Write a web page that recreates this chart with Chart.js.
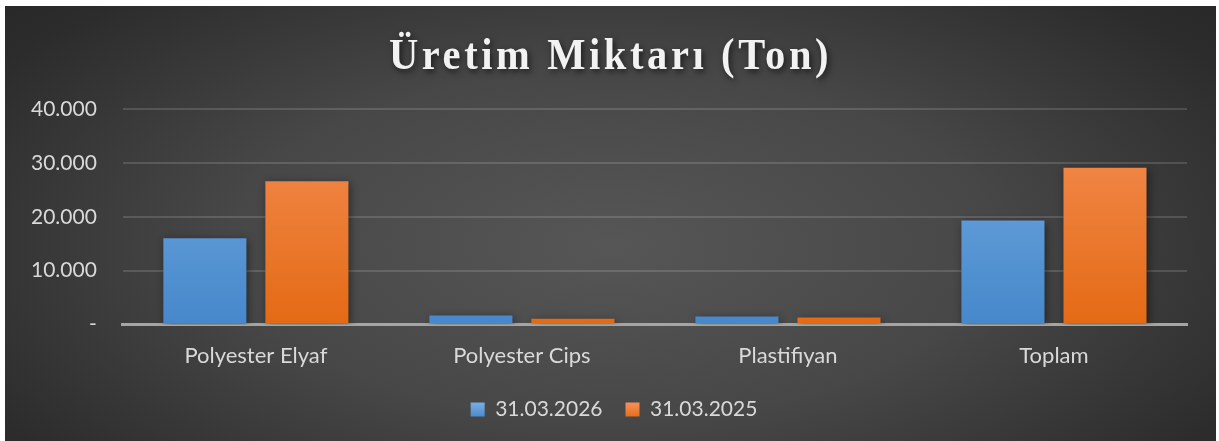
<!DOCTYPE html>
<html>
<head>
<meta charset="utf-8">
<script src="https://cdn.jsdelivr.net/npm/chart.js@4/dist/chart.umd.min.js"></script>
<style>
  html, body { margin: 0; padding: 0; background: #fff; }
  #box {
    position: absolute; left: 5px; top: 6px; width: 1211px; height: 435px;
    background: radial-gradient(ellipse 70% 90% at 50% 55%, #565656 0%, #474747 45%, #2c2c2c 85%, #262626 100%);
  }
  canvas { display: block; }
</style>
</head>
<body>
<div id="box"><canvas id="chart" width="1211" height="435"></canvas></div>
<script>
const categories = ["Polyester Elyaf", "Polyester Cips", "Plastifiyan", "Toplam"];
const series2026 = [16000, 1700, 1500, 19300];
const series2025 = [26600, 1100, 1300, 29100];
const seriesLabels = ["31.03.2026", "31.03.2025"];
const titleText = "Üretim Miktarı (Ton)";

const textColor = "#d9d9d9";
const fontFamily = "Lato, 'Open Sans', sans-serif";

function barGradient(ctx, top, bottom) {
  const area = ctx.chart.chartArea;
  if (!area) return bottom;
  const g = ctx.chart.ctx.createLinearGradient(0, area.top, 0, area.bottom);
  g.addColorStop(0, top);
  g.addColorStop(1, bottom);
  return g;
}

// title drawn by hand: condensed serif with letter spacing and shadow
const titlePlugin = {
  id: "serifTitle",
  afterDraw(chart) {
    const ctx = chart.ctx;
    ctx.save();
    ctx.font = "bold 45px 'Liberation Serif', 'Times New Roman', serif";
    ctx.letterSpacing = "4px";
    ctx.textAlign = "center";
    ctx.textBaseline = "middle";
    ctx.shadowColor = "rgba(0,0,0,0.6)";
    ctx.shadowBlur = 6;
    ctx.shadowOffsetX = 2;
    ctx.shadowOffsetY = 3;
    ctx.fillStyle = "#f2f2f2";
    ctx.translate(chart.width / 2, 51);
    ctx.scale(0.9, 1);
    ctx.fillText(titleText, 0, 0);
    ctx.restore();
  },
};

const shadowPlugin = {
  id: "barShadow",
  afterLayout(chart) {
    chart.legend.top -= 11;
    chart.legend.bottom -= 11;
    chart.legend.left += 18;
    chart.legend.right += 18;
  },
  beforeDatasetsDraw(chart) {
    const ctx = chart.ctx;
    ctx.save();
    ctx.shadowColor = "rgba(0,0,0,0.45)";
    ctx.shadowBlur = 8;
    ctx.shadowOffsetX = 2;
    ctx.shadowOffsetY = 2;
  },
  afterDatasetsDraw(chart) {
    chart.ctx.restore();
  },
};

new Chart(document.getElementById("chart"), {
  type: "bar",
  data: {
    labels: categories,
    datasets: [
      {
        label: seriesLabels[0],
        data: series2026,
        backgroundColor: (c) => barGradient(c, "#76abe2", "#4688cb"),
        borderWidth: 0,
      },
      {
        label: seriesLabels[1],
        data: series2025,
        backgroundColor: (c) => barGradient(c, "#f48e55", "#e46a14"),
        borderWidth: 0,
      },
    ],
  },
  options: {
    responsive: false,
    animation: false,
    categoryPercentage: 0.767,
    barPercentage: 0.814,
    layout: { padding: { top: 103, right: 29, left: 0, bottom: 0 } },
    plugins: {
      title: { display: false },
      tooltip: { enabled: false },
      legend: {
        position: "bottom",
        labels: {
          color: textColor,
          font: { family: fontFamily, size: 21 },
          boxWidth: 14,
          boxHeight: 14,
          padding: 23,
          generateLabels(chart) {
            const cols = [["#76abe2", "#4688cb"], ["#f48e55", "#e46a14"]];
            return chart.data.datasets.map((ds, i) => {
              const g = chart.ctx.createLinearGradient(0, 398, 0, 412);
              g.addColorStop(0, cols[i][0]);
              g.addColorStop(1, cols[i][1]);
              return { text: ds.label, fillStyle: g, strokeStyle: "transparent", lineWidth: 0, fontColor: textColor, datasetIndex: i };
            });
          },
        },
      },
    },
    scales: {
      x: {
        grid: { display: false, drawTicks: false },
        border: { color: "#a5a5a5", width: 3 },
        ticks: { color: textColor, font: { family: fontFamily, size: 22 }, padding: 18 },
      },
      y: {
        min: 0,
        max: 40000,
        ticks: {
          stepSize: 10000,
          color: textColor,
          font: { family: fontFamily, size: 21 },
          padding: 26,
          callback: (v) => (v === 0 ? "-" : v.toLocaleString("de-DE")),
        },
        grid: { color: "rgba(255,255,255,0.14)", lineWidth: 2, drawTicks: false },
        border: { display: false },
      },
    },
  },
  plugins: [shadowPlugin, titlePlugin],
});
</script>
</body>
</html>
